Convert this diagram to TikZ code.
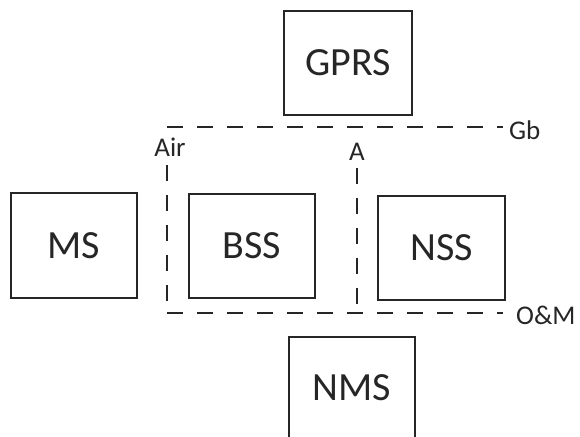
\documentclass[tikz,border=0pt]{standalone}
\usepackage{fontspec}
\setmainfont{Carlito}
\begin{document}
\begin{tikzpicture}[x=1pt,y=-1pt,
  unit/.style={draw=black!85, line width=2pt, inner sep=0pt,
    font=\fontsize{40}{44}\selectfont, text=black!85},
  iface/.style={font=\fontsize{27}{30}\selectfont, text=black!85, inner sep=0pt},
  bound/.style={draw=black!85, line width=2pt, dash pattern=on 16pt off 14pt}]
\useasboundingbox (0,0) rectangle (580,436);
\fill[white] (0,0) rectangle (580,436);

% network elements
\node[unit, minimum width=128pt, minimum height=104pt] (gprs) at (348,63) {GPRS};
\node[unit, minimum width=126pt, minimum height=105pt] (ms) at (74,245.5) {MS};
\node[unit, minimum width=126pt, minimum height=104pt] (bss) at (252,246) {BSS};
\node[unit, minimum width=127pt, minimum height=104pt] (nss) at (441.5,248) {NSS};

% NMS box runs off the lower edge
\coordinate (nmsbl) at (289,450);
\coordinate (nmstl) at (289,337);
\coordinate (nmstr) at (415,337);
\coordinate (nmsbr) at (415,450);
\draw[draw=black!85, line width=2pt] (nmsbl) -- (nmstl) -- (nmstr) -- (nmsbr);
\node[unit, draw=none] (nms) at (352,388) {NMS};

% interface boundaries
\coordinate (tl) at (167,127);
\coordinate (tr) at (503,127);
\coordinate (bl) at (167,313);
\coordinate (br) at (503,313);
\coordinate (atop) at (357,168);
\coordinate (abot) at (357,313);
\coordinate (airtop) at (167,165);
\draw[bound] (tl) -- (tr);
\draw[bound] (bl) -- (br);
\draw[bound] (airtop) -- (bl);
\draw[bound] (atop) -- (abot);

% interface labels
\node[iface] (air) at (170,147) {Air};
\node[iface] (a) at (357,152) {A};
\node[iface, anchor=west] (gb) at (509,130) {Gb};
\node[iface, anchor=west] (om) at (516,315) {O\&M};
\end{tikzpicture}
\end{document}
